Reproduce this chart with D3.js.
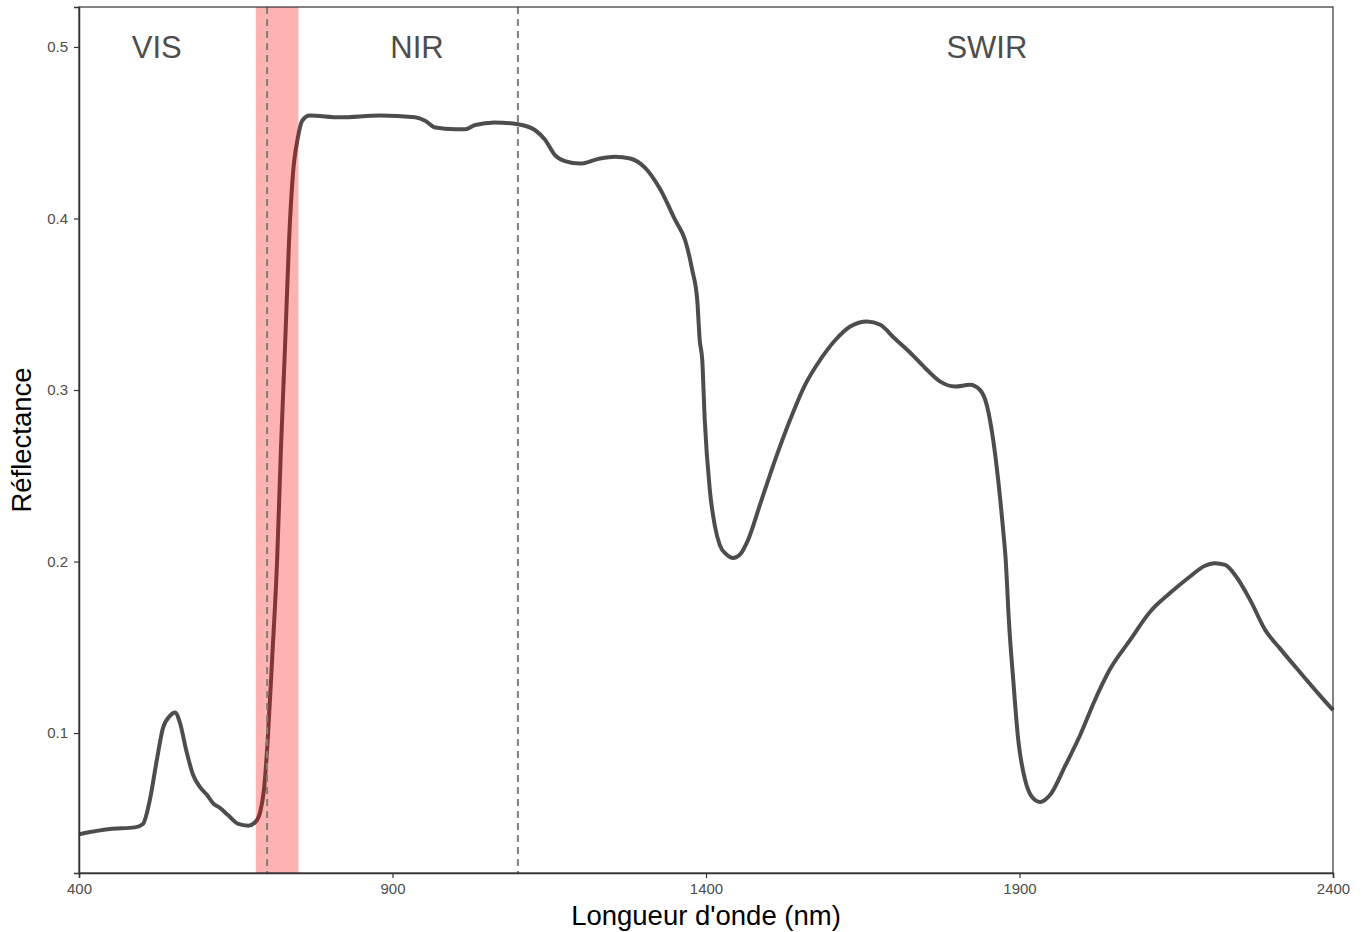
<!DOCTYPE html>
<html>
<head>
<meta charset="utf-8">
<script src="https://cdn.jsdelivr.net/npm/d3@7"></script>
<style>
  body { margin: 0; background: #fff; }
  text { font-family: "Liberation Sans", Arial, sans-serif; }
</style>
</head>
<body>
<div id="chart"></div>
<script>
// spectral signature of vegetation
const wavelength = [400, 449, 489, 502, 513, 524, 534, 545, 553, 561, 571, 582, 593, 604, 614, 625, 638, 654, 670, 681,
  689, 695, 701, 708, 716, 722, 729, 735, 741, 749, 756, 768, 816, 880, 936, 952, 968, 1000, 1016, 1032,
  1063, 1100, 1127, 1143, 1159, 1175, 1199, 1231, 1255, 1279, 1303, 1327, 1351, 1367, 1378, 1386, 1390, 1394, 1398, 1406,
  1414, 1422, 1433, 1443, 1454, 1467, 1486, 1510, 1534, 1558, 1582, 1606, 1630, 1657, 1678, 1701, 1725, 1749, 1773, 1797,
  1821, 1837, 1848, 1858, 1866, 1874, 1878, 1883, 1890, 1898, 1909, 1920, 1933, 1949, 1973, 1997, 2020, 2044, 2076, 2108,
  2140, 2171, 2195, 2211, 2228, 2244, 2268, 2292, 2315, 2347, 2379, 2400];
const reflectance = [0.041, 0.044, 0.045, 0.047, 0.061, 0.084, 0.103, 0.110, 0.112, 0.106, 0.090, 0.0755, 0.0685, 0.064, 0.059, 0.0563, 0.052, 0.047, 0.046, 0.048,
  0.054, 0.067, 0.096, 0.143, 0.201, 0.265, 0.329, 0.387, 0.425, 0.447, 0.457, 0.460, 0.459, 0.460, 0.459, 0.457, 0.453, 0.452, 0.452, 0.4545,
  0.456, 0.455, 0.4516, 0.446, 0.437, 0.4335, 0.432, 0.435, 0.436, 0.435, 0.4295, 0.417, 0.399, 0.387, 0.370, 0.3525, 0.329, 0.3175, 0.2825, 0.242,
  0.221, 0.2096, 0.204, 0.202, 0.204, 0.2125, 0.233, 0.259, 0.2825, 0.303, 0.3175, 0.329, 0.337, 0.340, 0.338, 0.330, 0.322, 0.313, 0.305, 0.302,
  0.303, 0.300, 0.291, 0.271, 0.2475, 0.218, 0.201, 0.166, 0.131, 0.096, 0.0726, 0.0627, 0.0598, 0.064, 0.081, 0.099, 0.119, 0.137, 0.154, 0.1706,
  0.1816, 0.191, 0.1974, 0.199, 0.198, 0.192, 0.1775, 0.160, 0.1495, 0.1356, 0.122, 0.1134];

const xTicks = [400, 900, 1400, 1900, 2400];
const yTicks = [0.1, 0.2, 0.3, 0.4, 0.5];
const regionNames = ["VIS", "NIR", "SWIR"];
const regionCenters = [524, 939, 1848];
const boundaries = [700, 1100];
const redEdge = [682, 750];

const W = 1363, H = 932;
const margin = {top: 7, right: 30, bottom: 59, left: 79};
const width = W - margin.left - margin.right,
    height = H - margin.top - margin.bottom;

const svg = d3.select("#chart")
    .append("svg")
    .attr("width", W)
    .attr("height", H)
    .append("g")
    .attr("transform", `translate(${margin.left},${margin.top})`);

const x = d3.scaleLinear().domain([400, 2400]).range([0, width]);
const y = d3.scaleLinear().domain([0.0184, 0.5233]).range([height, 0]);

const data = wavelength.map((w, i) => [w, reflectance[i]]);

// the spectrum
svg.append("path")
    .datum(data)
    .attr("fill", "none")
    .attr("stroke", "#4d4d4d")
    .attr("stroke-width", 4)
    .attr("stroke-linejoin", "round")
    .attr("d", d3.line()
        .curve(d3.curveMonotoneX)
        .x(d => x(d[0]))
        .y(d => y(d[1])));

// red edge band (drawn over the curve, translucent)
svg.append("rect")
    .attr("x", x(redEdge[0]))
    .attr("y", 0)
    .attr("width", x(redEdge[1]) - x(redEdge[0]))
    .attr("height", height)
    .attr("fill", "#ff0000")
    .attr("opacity", 0.3);

// region boundaries
svg.selectAll(".bound")
    .data(boundaries)
    .join("line")
    .attr("x1", d => x(d)).attr("x2", d => x(d))
    .attr("y1", 0).attr("y2", height)
    .attr("stroke", "#7f7f7f")
    .attr("stroke-width", 2)
    .attr("stroke-dasharray", "7,5");

// region labels
svg.selectAll(".region")
    .data(regionNames)
    .join("text")
    .attr("x", (d, i) => x(regionCenters[i]))
    .attr("y", y(0.5))
    .attr("dy", "0.35em")
    .attr("text-anchor", "middle")
    .attr("font-size", 31)
    .attr("fill", "#4d4d4d")
    .text(d => d);

// panel border
svg.append("rect")
    .attr("width", width).attr("height", height)
    .attr("fill", "none")
    .attr("stroke", "#333")
    .attr("stroke-width", 1.2);

// axes
const xAxis = svg.append("g")
    .attr("transform", `translate(0,${height})`)
    .call(d3.axisBottom(x).tickValues(xTicks).tickSize(5).tickPadding(5).tickFormat(d3.format("d")));
const yAxis = svg.append("g")
    .call(d3.axisLeft(y).tickValues(yTicks).tickSize(5).tickPadding(6).tickFormat(d3.format(".1f")));
[xAxis, yAxis].forEach(a => {
    a.select(".domain").attr("stroke", "#333").attr("stroke-width", 1.5);
    a.selectAll(".tick line").attr("stroke", "#333").attr("stroke-width", 1.2);
    a.selectAll(".tick text")
        .attr("font-family", "Liberation Sans, Arial, sans-serif")
        .attr("font-size", 15)
        .attr("fill", "#4d4d4d");
});

// axis titles
svg.append("text")
    .attr("x", width / 2)
    .attr("y", height + 52)
    .attr("text-anchor", "middle")
    .attr("font-size", 27.5)
    .attr("fill", "#000")
    .text("Longueur d'onde (nm)");

svg.append("text")
    .attr("transform", `translate(${-48},${height / 2}) rotate(-90)`)
    .attr("text-anchor", "middle")
    .attr("font-size", 27.5)
    .attr("fill", "#000")
    .text("Réflectance");
</script>
</body>
</html>
